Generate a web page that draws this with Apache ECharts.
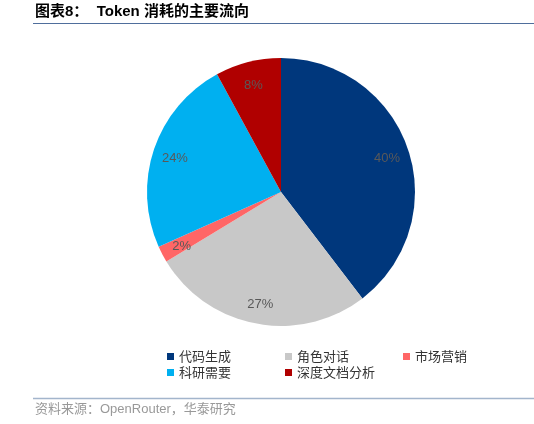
<!DOCTYPE html>
<html lang="zh">
<head>
<meta charset="UTF-8">
<title>Token 消耗的主要流向</title>
<script src="https://cdn.jsdelivr.net/npm/echarts@6/dist/echarts.min.js"></script>
<style>
    html, body { margin: 0; padding: 0; background: #fff; }
    #chart { width: 534px; height: 424px; }
</style>
</head>
<body>
<div id="chart"></div>
<script>
    // 数据
    var categories = ['代码生成', '角色对话', '市场营销', '科研需要', '深度文档分析'];
    var shares = [40, 27, 2, 24, 8];
    var colors = ['#00377C', '#C8C8C8', '#FF6666', '#00B0F0', '#B00000'];

    var font = '"Liberation Sans", Arial, "Noto Sans CJK SC", sans-serif';

    var pieData = categories.map(function (name, i) {
        return { name: name, value: shares[i], itemStyle: { color: colors[i] } };
    });
    // transparent ring only used to put the labels near the rim
    var labelData = categories.map(function (name, i) {
        return { name: name, value: shares[i] };
    });

    var legendText = { color: '#333', fontSize: 13, fontFamily: '"Noto Sans CJK SC", sans-serif' };

    var chart = echarts.init(document.getElementById('chart'));
    chart.setOption({
        animation: false,
        legend: [{
            data: categories.slice(0, 3),
            left: 162, top: 345,
            itemWidth: 7, itemHeight: 7, itemGap: 54,
            icon: 'rect',
            textStyle: legendText
        }, {
            data: categories.slice(3),
            left: 162, top: 361,
            itemWidth: 7, itemHeight: 7, itemGap: 54,
            icon: 'rect',
            textStyle: legendText
        }],
        graphic: [
            { type: 'text', left: 35, top: 4,
              style: { text: '图表8：  Token 消耗的主要流向', fill: '#000', font: 'bold 15px ' + font } },
            { type: 'line', shape: { x1: 33, y1: 23.5, x2: 534, y2: 23.5 },
              style: { stroke: '#4F6E9C', lineWidth: 1 } },
            { type: 'line', shape: { x1: 33, y1: 398.5, x2: 534, y2: 398.5 },
              style: { stroke: '#A3B5CC', lineWidth: 1.5 } },
            { type: 'text', left: 35, top: 403,
              style: { text: '资料来源：OpenRouter，华泰研究', fill: '#999', font: '13px ' + font } }
        ],
        series: [{
            type: 'pie',
            center: [281, 192],
            radius: [0, 134],
            startAngle: 90,
            clockwise: true,
            silent: true,
            label: { show: false },
            labelLine: { show: false },
            itemStyle: { borderWidth: 0 },
            data: pieData
        }, {
            type: 'pie',
            center: [281, 194],
            radius: [84, 134],
            startAngle: 90,
            clockwise: true,
            silent: true,
            legendHoverLink: false,
            itemStyle: { color: 'rgba(0,0,0,0)' },
            label: {
                show: true,
                position: 'inside',
                formatter: '{c}%',
                color: '#595959',
                fontSize: 13,
                fontFamily: font
            },
            labelLine: { show: false },
            data: labelData
        }]
    });
</script>
</body>
</html>
